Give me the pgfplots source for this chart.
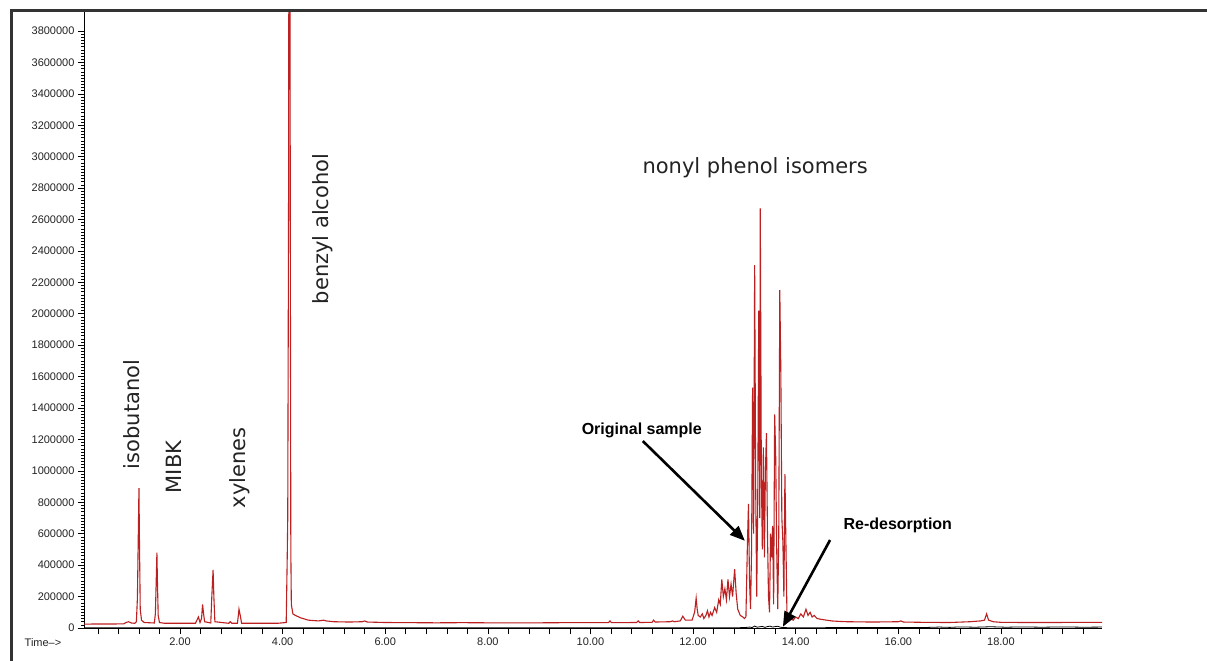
\documentclass[border=0pt]{standalone}
\usepackage{pgfplots}
\pgfplotsset{compat=1.18}
\usepackage{fontspec}
\setmainfont{Liberation Sans}
\newfontfamily\dv{DejaVu Sans}
\usetikzlibrary{arrows.meta}
\definecolor{chromred}{RGB}{188,32,32}
\definecolor{txt}{RGB}{35,35,35}
\begin{document}
\begin{tikzpicture}
\path[use as bounding box] (0pt,0pt) rectangle (1207pt,-661pt);
\fill[white] (0pt,0pt) rectangle (1207pt,-661pt);
\begin{axis}[
  at={(84pt,-628pt)}, anchor=south west,
  scale only axis, width=1018pt, height=617pt,
  xmin=0.129, xmax=19.97, ymin=0, ymax=3927000,
  axis x line*=bottom, axis y line*=left,
  axis line style={black, line width=0.8pt},
  xtick={2,4,...,18},
  xticklabel style={/pgf/number format/.cd, fixed, fixed zerofill, precision=2},
  extra x ticks={0.4,0.8,1.2,1.6,2.4,2.8,3.2,3.6,4.4,4.8,5.2,5.6,6.4,6.8,7.2,7.6,8.4,8.8,9.2,9.6,10.4,10.8,11.2,11.6,12.4,12.8,13.2,13.6,14.4,14.8,15.2,15.6,16.4,16.8,17.2,17.6,18.4,18.8,19.2,19.6},
  extra x tick labels={},
  ytick={0,200000,...,3800000},
  scaled y ticks=false,
  yticklabel style={/pgf/number format/.cd, fixed, 1000 sep={}},
  minor y tick num=9,
  tick align=outside,
  major tick length=6pt, minor tick length=2.5pt,
  tick style={black, line width=0.6pt},
  /pgf/number format/assume math mode=true,
  tick label style={font=\fontsize{11}{12}\selectfont, text=txt},
  clip=true,
]
% re-desorption (black) trace
\addplot[black, line width=0.8pt] coordinates {
(0.13,2000) (12.9,2000) (13.05,4000) (13.1,6000) (13.15,3000) (13.2,12000) (13.25,5000)
(13.3,8000) (13.35,10000) (13.4,4000) (13.45,9000) (13.5,12000) (13.55,6000) (13.6,9000)
(13.65,11000) (13.7,5000) (13.75,3000) (13.85,2000) (16.5,3000) (16.8,6000) (17.0,4000)
(17.2,7000) (17.5,5000) (17.8,8000) (18.1,5000) (18.4,7000) (18.8,5000) (19.2,7000)
(19.6,5000) (19.97,6000)
};
% original sample (red) trace
\addplot[chromred, line width=1.1pt] coordinates {
(0.13,25000) (0.9,26000) (0.95,35000) (1.0,40000) (1.05,32000) (1.12,30000)
(1.15,40000) (1.17,190000) (1.185,540000) (1.2,890000) (1.21,550000) (1.225,120000) (1.25,50000) (1.3,35000)
(1.5,32000) (1.52,90000) (1.535,280000) (1.55,480000) (1.56,300000) (1.575,80000) (1.6,35000)
(1.7,30000) (2.3,30000)
(2.33,50000) (2.36,70000) (2.39,35000) (2.42,60000) (2.44,150000) (2.46,90000) (2.48,40000)
(2.6,32000) (2.62,200000) (2.645,370000) (2.66,200000) (2.68,40000)
(2.95,30000) (2.98,40000) (3.01,30000) (3.12,30000) (3.15,120000) (3.18,70000) (3.2,30000)
(3.9,30000) (4.07,35000) (4.09,450000) (4.10,700000) (4.115,2540000) (4.125,5000000) (4.14,5000000)
(4.15,2540000) (4.16,500000) (4.17,150000) (4.2,90000)
(4.25,80000) (4.35,65000) (4.5,50000) (4.7,45000) (4.8,50000) (4.85,45000) (5.0,40000)
(5.3,38000) (5.55,40000) (5.6,45000) (5.65,38000) (6.0,35000)
(6.5,34000) (7.0,33000) (7.5,34000) (8.0,33000) (8.5,33000) (9.0,33000) (9.5,34000)
(10.0,34000) (10.35,34000) (10.38,45000) (10.41,34000) (10.9,35000) (10.93,45000) (10.96,35000)
(11.2,36000) (11.23,50000) (11.26,38000) (11.55,40000) (11.6,45000) (11.63,40000)
(11.75,45000) (11.8,75000) (11.85,50000) (11.98,50000)
(12.03,100000) (12.06,190000) (12.08,120000) (12.1,80000) (12.14,70000) (12.18,90000)
(12.21,60000) (12.25,80000) (12.28,110000) (12.31,70000) (12.34,100000) (12.37,80000)
(12.42,130000) (12.46,100000) (12.5,180000)
(12.53,150000) (12.56,310000) (12.59,200000) (12.62,250000) (12.65,180000) (12.68,310000)
(12.71,200000) (12.74,280000) (12.77,200000) (12.81,375000) (12.84,220000) (12.87,120000)
(12.92,80000) (12.97,70000) (13.0,60000)
(13.03,70000) (13.06,550000) (13.08,790000) (13.1,300000) (13.12,120000) (13.14,500000)
(13.16,1530000) (13.18,600000) (13.2,2310000) (13.22,900000) (13.24,200000) (13.26,800000)
(13.28,2020000) (13.3,700000) (13.31,2670000) (13.33,1000000) (13.35,500000) (13.37,1150000)
(13.39,450000) (13.41,1000000) (13.43,1240000) (13.45,600000) (13.47,200000) (13.49,100000)
(13.51,600000) (13.53,450000) (13.55,650000) (13.57,150000) (13.59,1360000) (13.61,1100000)
(13.63,500000) (13.65,120000) (13.67,600000) (13.69,2150000) (13.71,1650000) (13.73,700000)
(13.75,550000) (13.77,200000) (13.79,980000) (13.81,530000) (13.83,80000) (13.86,50000)
(13.9,60000) (13.95,50000) (14.0,70000) (14.05,60000) (14.1,90000) (14.15,70000)
(14.2,120000) (14.24,80000) (14.28,100000) (14.32,70000) (14.36,80000) (14.42,60000)
(14.5,55000) (14.6,50000) (14.7,45000) (14.85,42000) (15.0,40000) (15.5,38000)
(16.0,40000) (16.05,45000) (16.1,38000) (16.5,36000) (17.0,35000) (17.4,40000)
(17.6,45000) (17.68,50000) (17.72,90000) (17.76,50000) (17.85,40000) (18.0,36000)
(18.5,35000) (19.0,35000) (19.5,36000) (19.97,36000)
};
% annotations
\node[font=\dv\fontsize{21}{21}\selectfont, text=txt, rotate=90] at (axis cs:1.065,1360000) {isobutanol};
\node[font=\dv\fontsize{21}{21}\selectfont, text=txt, rotate=90] at (axis cs:1.88,1025000) {MIBK};
\node[font=\dv\fontsize{21}{21}\selectfont, text=txt, rotate=90] at (axis cs:3.17,1020000) {xylenes};
\node[font=\dv\fontsize{21}{21}\selectfont, text=txt, rotate=90] at (axis cs:4.79,2540000) {benzyl alcohol};
\node[font=\dv\fontsize{21}{21}\selectfont, text=txt] at (axis cs:13.21,2930000) {nonyl phenol isomers};
\node[font=\bfseries\fontsize{16}{16}\selectfont, text=black] at (axis cs:11.0,1260000) {Original sample};
\node[font=\bfseries\fontsize{16}{16}\selectfont, text=black] at (axis cs:15.99,656000) {Re-desorption};
\draw[-{Triangle[length=15pt,width=12pt]}, line width=2.6pt] (axis cs:11.02,1190000) -- (axis cs:13.01,555000);
\draw[-{Triangle[length=15pt,width=12pt]}, line width=2.6pt] (axis cs:14.67,560000) -- (axis cs:13.75,8000);
\end{axis}
\node[font=\fontsize{11}{12}\selectfont, text=txt] at (43pt,-643pt) {Time-->};
\draw[line width=3pt, black!80] (11pt,-661pt) -- (11pt,-11pt) -- (1207pt,-11pt);
\end{tikzpicture}
\end{document}
